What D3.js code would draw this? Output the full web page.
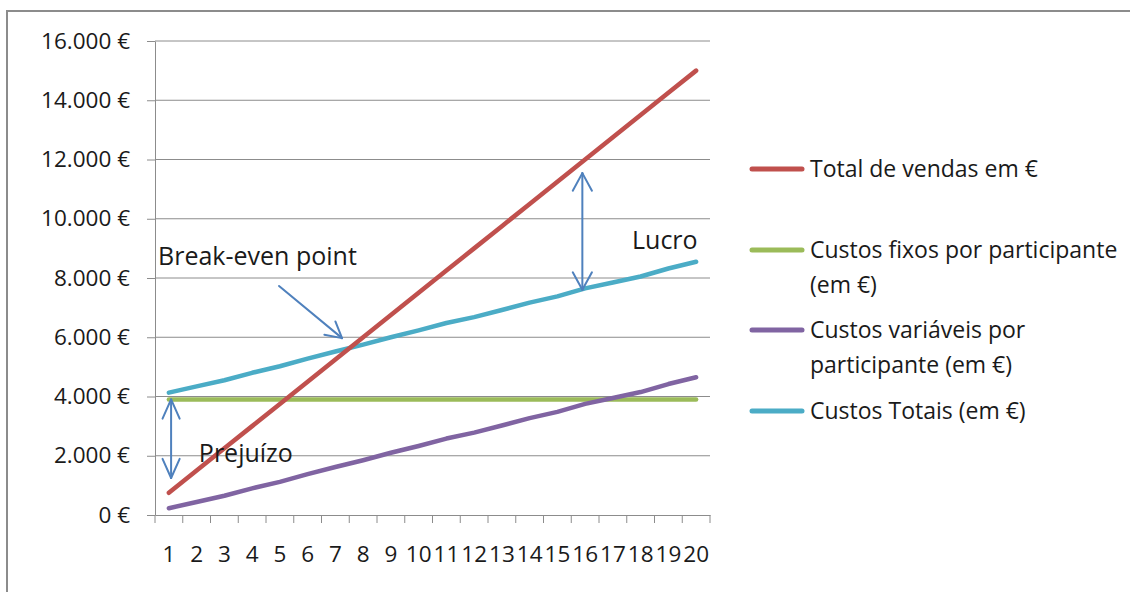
<!DOCTYPE html>
<html>
<head>
<meta charset="utf-8">
<title>Break-even</title>
<script src="https://d3js.org/d3.v7.min.js"></script>
<style>
  body { margin: 0; background: #fff; }
  svg { display: block; font-family: "Open Sans", Lato, sans-serif; }
  .grid line { stroke: #8c8c8c; stroke-width: 1; }
  .serie { fill: none; stroke-width: 4.5; stroke-linecap: round; stroke-linejoin: round; }
  .seta { fill: none; stroke: #4f81bd; stroke-width: 2; stroke-linecap: round; }
  text { fill: #1a1a1a; }
</style>
</head>
<body>
<script>
// dados
var participantes = ["1","2","3","4","5","6","7","8","9","10","11","12","13","14","15","16","17","18","19","20"];
var totalVendas = [750,1500,2250,3000,3750,4500,5250,6000,6750,7500,8250,9000,9750,10500,11250,12000,12750,13500,14250,15000];
var custosFixos = [3900,3900,3900,3900,3900,3900,3900,3900,3900,3900,3900,3900,3900,3900,3900,3900,3900,3900,3900,3900];
var custosVariaveis = [230,440,650,900,1120,1380,1620,1850,2100,2330,2580,2780,3020,3270,3480,3750,3950,4150,4420,4650];
var custosTotais = [4130,4340,4550,4800,5020,5280,5520,5750,6000,6230,6480,6680,6920,7170,7380,7650,7850,8050,8320,8550];
var yTicks = [0,2000,4000,6000,8000,10000,12000,14000,16000];

var series = [
  {nome: ["Total de vendas em €"], valores: totalVendas, cor: "#c0504d", largura: 4.5},
  {nome: ["Custos fixos por participante", "(em €)"], valores: custosFixos, cor: "#9bbb59", largura: 5.5},
  {nome: ["Custos variáveis por", "participante (em €)"], valores: custosVariaveis, cor: "#8064a2", largura: 4.5},
  {nome: ["Custos Totais (em €)"], valores: custosTotais, cor: "#4bacc6", largura: 4.5}
];

var width = 1130, height = 592;
var mLeft = 155, mRight = 710, mTop = 41, mBottom = 515;

var svg = d3.select("body").append("svg")
    .attr("width", width)
    .attr("height", height);

// moldura
svg.append("rect")
    .attr("x", 7).attr("y", 11)
    .attr("width", 1140).attr("height", 620)
    .attr("fill", "none").attr("stroke", "#8c8c8c").attr("stroke-width", 2);

var x = d3.scaleBand().domain(participantes).range([mLeft, mRight]).padding(0);
var xc = function(d) { return x(d) + x.bandwidth() / 2; };
// escala continua para as anotacoes (categoria 1..20)
var xl = d3.scaleLinear().domain([0.5, 20.5]).range([mLeft, mRight]);
var y = d3.scaleLinear().domain([0, 16000]).range([mBottom, mTop]);

// grelha horizontal
svg.append("g").attr("class", "grid")
    .selectAll("line")
    .data(yTicks.slice(1))
    .enter().append("line")
    .attr("x1", mLeft).attr("x2", mRight)
    .attr("y1", function(d) { return y(d); })
    .attr("y2", function(d) { return y(d); });

// eixo y
var yAxis = svg.append("g")
    .attr("transform", "translate(" + mLeft + ",0)")
    .call(d3.axisLeft(y).tickValues(yTicks).tickSize(8).tickSizeOuter(0).tickPadding(17)
        .tickFormat(function(d) { return d3.format(",")(d).replace(/,/g, ".") + " €"; }));
yAxis.select(".domain").attr("stroke", "#8c8c8c");
yAxis.selectAll(".tick line").attr("stroke", "#8c8c8c");
yAxis.selectAll("text").attr("font-size", 22.5).attr("fill", "#1a1a1a").attr("font-family", "Open Sans");

// eixo x
var xAxis = svg.append("g")
    .attr("transform", "translate(0," + mBottom + ")")
    .call(d3.axisBottom(x).tickSize(0).tickPadding(31));
xAxis.select(".domain").attr("stroke", "#8c8c8c");
xAxis.selectAll("text").attr("font-size", 22.5).attr("fill", "#1a1a1a").attr("font-family", "Open Sans");
// marcas entre categorias
xAxis.selectAll(".sep")
    .data(d3.range(participantes.length + 1))
    .enter().append("line")
    .attr("x1", function(i) { return mLeft + i * x.step(); })
    .attr("x2", function(i) { return mLeft + i * x.step(); })
    .attr("y1", 0).attr("y2", 8)
    .attr("stroke", "#8c8c8c");

// linhas
var line = d3.line()
    .x(function(d, i) { return xc(participantes[i]); })
    .y(function(d) { return y(d); });

// ordem de desenho: fixos, variaveis, totais, vendas
[1, 2, 3, 0].forEach(function(k) {
  var s = series[k];
  svg.append("path")
      .attr("class", "serie")
      .attr("d", line(s.valores))
      .attr("stroke", s.cor)
      .attr("stroke-width", s.largura)
      .attr("stroke-linecap", k == 1 ? "butt" : "round");
});

// setas
function seta(x1, y1, x2, y2, duas, comp, ang) {
  var g = svg.append("g").attr("class", "seta");
  g.append("line").attr("x1", x1).attr("y1", y1).attr("x2", x2).attr("y2", y2);
  function ponta(px, py, qx, qy) {
    var a = Math.atan2(qy - py, qx - px);
    [-ang, ang].forEach(function(da) {
      g.append("line")
          .attr("x1", px).attr("y1", py)
          .attr("x2", px + comp * Math.cos(a + da))
          .attr("y2", py + comp * Math.sin(a + da));
    });
  }
  ponta(x2, y2, x1, y1);
  if (duas) ponta(x1, y1, x2, y2);
}

// break-even
seta(xl(4.97), y(7730), xl(7.24), y(5970), false, 18, 0.5);
// prejuizo
seta(xl(1.08), y(3900), xl(1.08), y(1250), true, 21, 0.42);
// lucro
seta(xl(15.9), y(11540), xl(15.9), y(7600), true, 20, 0.5);

// textos das anotacoes
var notas = [
  {t: "Break-even point", c: 0.61, v: 8720},
  {t: "Prejuízo", c: 2.08, v: 2100},
  {t: "Lucro", c: 17.69, v: 9280}
];
svg.selectAll(".nota")
    .data(notas)
    .enter().append("text")
    .attr("class", "nota")
    .attr("x", function(d) { return xl(d.c); })
    .attr("y", function(d) { return y(d.v); })
    .attr("dy", "0.35em")
    .attr("font-size", 25)
    .text(function(d) { return d.t; });

// legenda
var legY = [169, 250, 330, 411];
var leg = svg.selectAll(".leg")
    .data(series)
    .enter().append("g")
    .attr("class", "leg")
    .attr("transform", function(d, i) { return "translate(750," + legY[i] + ")"; });
leg.append("line")
    .attr("x1", 2).attr("x2", 52)
    .attr("stroke", function(d) { return d.cor; })
    .attr("stroke-width", 5)
    .attr("stroke-linecap", "round");
leg.append("text")
    .attr("x", 60)
    .attr("font-size", 23)
    .selectAll("tspan")
    .data(function(d) { return d.nome; })
    .enter().append("tspan")
    .attr("x", 60)
    .attr("dy", function(d, i) { return i == 0 ? "0.35em" : 35; })
    .text(function(d) { return d; });
</script>
</body>
</html>
